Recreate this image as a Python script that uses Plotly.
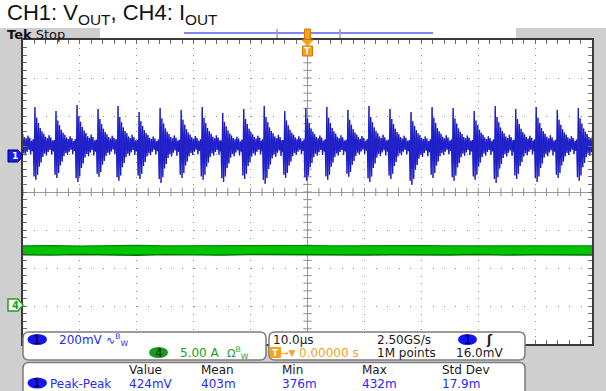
import numpy as np
import plotly.graph_objects as go

W, H = 606, 391
GX0, GX1, GY0, GY1 = 23, 592, 40, 344   # graticule edges in pixels


def fx(px):
    return (px - GX0) / (GX1 - GX0)


def fy(py):
    return (GY1 - py) / (GY1 - GY0)


# ---------------- data ----------------
ch1_scale_mv = 200.0      # mV / div
ch1_offset_div = 1.0      # CH1 ground marker position (div)
ch4_scale_a = 5.0         # A / div
ch4_offset_div = -3.0     # CH4 ground marker position (div)

ch1_baseline_mv = 47
ch1_spike_times_us = [-51.6, -47.9, -44.2, -40.5, -36.8, -33.3, -29.6, -25.9, -22.2,
                      -18.5, -14.9, -11.2, -7.6, -4.0, -0.3, 3.4, 7.1, 10.8, 14.5,
                      18.2, 21.9, 25.6, 29.3, 33.0, 36.6, 40.2, 43.9, 47.6]
ch1_spike_max_mv = [237, 247, 226, 258, 237, 253, 221, 242, 232, 247, 216, 237, 253, 226,
                    242, 247, 232, 253, 237, 221, 247, 242, 226, 253, 237, 247, 232, 242]
ch1_spike_min_mv = [-131, -136, -126, -147, -120, -141, -131, -152, -126, -136, -147, -131,
                    -157, -126, -141, -136, -120, -147, -131, -162, -126, -141, -136, -152,
                    -131, -147, -126, -141]
ch1_cycle_step_us = 0.155
ch1_cycle_shape = [0.15, -0.9, 1.0, -1.0, 0.72, -0.85, 0.58, -0.62, 0.45, -0.5, 0.36,
                   -0.34, 0.3, -0.24, 0.22, -0.3, 0.18, -0.2, 0.26, -0.14, 0.2, -0.28,
                   0.12, -0.18]

ch4_time_us = [-50, -45, -40, -35, -30, -25, -20, -15, -10, -5, 0,
               5, 10, 15, 20, 25, 30, 35, 40, 45, 50]
ch4_upper_a = [7.9, 7.95, 7.88, 7.93, 7.97, 7.9, 7.92, 7.96, 7.89, 7.91, 7.96,
               7.9, 7.93, 7.88, 7.95, 7.91, 7.9, 7.94, 7.97, 7.9, 7.93]
ch4_lower_a = [6.75, 6.7, 6.78, 6.72, 6.68, 6.76, 6.73, 6.69, 6.77, 6.74, 6.7,
               6.76, 6.71, 6.75, 6.69, 6.72, 6.77, 6.7, 6.74, 6.76, 6.71]

meas_labels = ["Value", "Mean", "Min", "Max", "Std Dev"]
meas_values = ["424mV", "403m", "376m", "432m", "17.9m"]
meas_name = "Peak-Peak"

# ---------------- build CH1 record ----------------
t1, v1 = [], []
n = len(ch1_spike_times_us)
for i in range(n):
    t0 = ch1_spike_times_us[i]
    vmax, vmin = ch1_spike_max_mv[i], ch1_spike_min_mv[i]
    t_next = ch1_spike_times_us[i + 1] - 2 * ch1_cycle_step_us if i + 1 < n else 1e9
    for k, s in enumerate(ch1_cycle_shape):
        t = t0 + (k - 2) * ch1_cycle_step_us
        if t >= t_next:
            break
        if s >= 0:
            v = ch1_baseline_mv + s * (vmax - ch1_baseline_mv)
        else:
            v = ch1_baseline_mv + s * (ch1_baseline_mv - vmin)
        t1.append(t)
        v1.append(v)

BLUE = "#2a2af5"
GREEN = "#1e9e1e"
ORANGE = "#f5a21e"
GRID = "#8e8e8e"

fig = go.Figure()

# centre cross-hair minor ticks (graticule)
minor_x = np.arange(-50, 50.01, 2)
minor_y = np.arange(-4, 4.001, 0.2)
fig.add_trace(go.Scatter(x=minor_x, y=np.zeros_like(minor_x), mode="markers",
                         marker=dict(symbol="line-ns", size=6, line=dict(width=1, color=GRID)),
                         hoverinfo="skip", showlegend=False))
fig.add_trace(go.Scatter(x=np.zeros_like(minor_y), y=minor_y, mode="markers",
                         marker=dict(symbol="line-ew", size=6, line=dict(width=1, color=GRID)),
                         hoverinfo="skip", showlegend=False))

# CH4 current band
fig.add_trace(go.Scatter(x=ch4_time_us, y=ch4_lower_a, yaxis="y3", mode="lines",
                         line=dict(color="#007000", width=1.4), showlegend=False, hoverinfo="skip"))
fig.add_trace(go.Scatter(x=ch4_time_us, y=ch4_upper_a, yaxis="y3", mode="lines",
                         line=dict(color="#008800", width=1.2), fill="tonexty",
                         fillcolor="#00c400", showlegend=False, hoverinfo="skip"))

# CH1 voltage
fig.add_trace(go.Scatter(x=t1, y=v1, yaxis="y2", mode="lines",
                         line=dict(color="#3232ee", width=1.3), showlegend=False, hoverinfo="skip"))
fig.add_trace(go.Scatter(x=t1, y=v1, yaxis="y2", mode="lines", opacity=0.55,
                         line=dict(color="#00007a", width=0.6), showlegend=False, hoverinfo="skip"))

ch1_range = [(-4 - ch1_offset_div) * ch1_scale_mv, (4 - ch1_offset_div) * ch1_scale_mv]
ch4_range = [(-4 - ch4_offset_div) * ch4_scale_a, (4 - ch4_offset_div) * ch4_scale_a]

axis_common = dict(showgrid=True, gridcolor=GRID, gridwidth=1, zeroline=True,
                   zerolinecolor="#9a9a9a", zerolinewidth=1, showline=True,
                   linecolor="#3a3a3a", linewidth=2, mirror="ticks", ticks="inside",
                   ticklen=4, tickcolor="#707070", showticklabels=False, fixedrange=True)

fig.update_layout(
    width=W, height=H, autosize=False,
    margin=dict(l=GX0, r=W - GX1, t=GY0, b=H - GY1, pad=0),
    paper_bgcolor="#cfcfcf", plot_bgcolor="white",
    xaxis=dict(range=[-50, 50], dtick=10, tick0=0, griddash="1px,6.6px",
               minor=dict(ticks="inside", ticklen=4, dtick=2, tickcolor="#707070", showgrid=False),
               **axis_common),
    yaxis=dict(range=[-4, 4], dtick=1, tick0=0, griddash="1px,10.38px",
               minor=dict(ticks="inside", ticklen=4, dtick=0.2, tickcolor="#707070", showgrid=False),
               **axis_common),
    yaxis2=dict(range=ch1_range, overlaying="y", visible=False, fixedrange=True),
    yaxis3=dict(range=ch4_range, overlaying="y", visible=False, fixedrange=True),
    showlegend=False,
)


def P(pts):
    s = ""
    for cmd, xy in pts:
        if cmd == "Z":
            s += " Z"
        else:
            s += " %s" % cmd + " ".join("%.5f,%.5f" % (fx(x), fy(y)) for x, y in xy)
    return s.strip()


def rrect(x0, y0, x1, y1, r):
    return P([("M", [(x0 + r, y0)]), ("L", [(x1 - r, y0)]), ("Q", [(x1, y0), (x1, y0 + r)]),
              ("L", [(x1, y1 - r)]), ("Q", [(x1, y1), (x1 - r, y1)]), ("L", [(x0 + r, y1)]),
              ("Q", [(x0, y1), (x0, y1 - r)]), ("L", [(x0, y0 + r)]),
              ("Q", [(x0, y0), (x0 + r, y0)]), ("Z", None)])


shapes = []
# white title area & record view bar
shapes.append(dict(type="rect", xref="paper", yref="paper", x0=fx(-5), x1=fx(615),
                   y0=fy(28), y1=fy(-5), fillcolor="white", line=dict(width=0), layer="below"))
shapes.append(dict(type="rect", xref="paper", yref="paper", x0=fx(100), x1=fx(516),
                   y0=fy(40), y1=fy(28), fillcolor="white", line=dict(width=0), layer="below"))
shapes.append(dict(type="line", xref="paper", yref="paper", x0=fx(184), x1=fx(433),
                   y0=fy(33), y1=fy(33), line=dict(color="#5b5bef", width=1.5)))
for bx in (277, 340):
    shapes.append(dict(type="line", xref="paper", yref="paper", x0=fx(bx), x1=fx(bx),
                       y0=fy(29), y1=fy(38), line=dict(color="#a0a0a0", width=1.5)))
# trigger position marker
shapes.append(dict(type="rect", xref="paper", yref="paper", x0=fx(304.5), x1=fx(310.5),
                   y0=fy(39), y1=fy(29), fillcolor=ORANGE, line=dict(color="#d07c00", width=1)))
shapes.append(dict(type="path", xref="paper", yref="paper",
                   path=P([("M", [(302, 40)]), ("L", [(313, 40)]), ("L", [(307.5, 46)]), ("Z", None)]),
                   fillcolor=ORANGE, line=dict(color=ORANGE, width=1)))
shapes.append(dict(type="rect", xref="paper", yref="paper", x0=fx(302.5), x1=fx(312.5),
                   y0=fy(56), y1=fy(46), fillcolor=ORANGE, line=dict(color="#d07c00", width=1)))
# channel ground markers
shapes.append(dict(type="path", xref="paper", yref="paper",
                   path=P([("M", [(8, 150)]), ("L", [(18, 150)]), ("L", [(23, 156)]),
                           ("L", [(18, 162)]), ("L", [(8, 162)]), ("Z", None)]),
                   fillcolor="#1a1aff", line=dict(color="#00005a", width=1)))
shapes.append(dict(type="path", xref="paper", yref="paper",
                   path=P([("M", [(8, 299)]), ("L", [(18, 299)]), ("L", [(23, 305)]),
                           ("L", [(18, 311)]), ("L", [(8, 311)]), ("Z", None)]),
                   fillcolor="white", line=dict(color="#22a022", width=1.5)))
# readout boxes
for (x0, y0, x1, y1) in [(23, 332, 266, 360), (269, 332, 525, 360), (23, 362.5, 525, 398)]:
    shapes.append(dict(type="path", xref="paper", yref="paper", path=rrect(x0, y0, x1, y1, 6),
                       fillcolor="white", line=dict(color="#7c7c7c", width=1.5), layer="above"))
# channel badges
for (x0, y0, x1, y1, c) in [(27.5, 334, 47, 345, "#1414f0"), (149, 347, 168, 358, "#1a9a1a"),
                            (458, 334, 477, 345, "#1414f0"), (27.5, 377.5, 47, 388.5, "#1414f0")]:
    shapes.append(dict(type="circle", xref="paper", yref="paper", x0=fx(x0), x1=fx(x1),
                       y0=fy(y1), y1=fy(y0), fillcolor=c, line=dict(width=0), layer="above"))
shapes.append(dict(type="rect", xref="paper", yref="paper", x0=fx(270), x1=fx(281),
                   y0=fy(358), y1=fy(347), fillcolor=ORANGE, line=dict(width=0), layer="above"))
fig.update_layout(shapes=shapes)

FONT = "DejaVu Sans"
ann = []


def txt(px, py, text, color="#1a1a1a", size=12, anchor="left", family=FONT):
    ann.append(dict(xref="paper", yref="paper", x=fx(px), y=fy(py), text=text, showarrow=False,
                    xanchor=anchor, yanchor="middle",
                    font=dict(family=family, size=size, color=color)))


ann.append(dict(xref="paper", yref="paper", x=fx(5), y=fy(-2),
                text="CH1: V<sub>OUT</sub>, CH4: I<sub>OUT</sub>", showarrow=False,
                xanchor="left", yanchor="top",
                font=dict(family="Liberation Sans", size=22, color="#111111")))
txt(5, 34, "<b>Tek</b> Stop", size=13, color="#111111")
txt(307.5, 51.5, "<b>T</b>", color="white", size=9, anchor="center")
txt(15, 156, "<b>1</b>", color="white", size=9, anchor="center")
txt(15, 305, "<b>4</b>", color="#22a022", size=10, anchor="center")

# left readout box
txt(37.3, 339.5, "1", color="#00002a", anchor="center")
txt(57, 339.5, "200mV", color=BLUE)
txt(104, 339.5, "∿<sup>B</sup><sub>W</sub>", color=BLUE, size=11)
txt(158.5, 352.5, "4", color="#002a00", anchor="center")
txt(178, 352.5, "5.00 A", color=GREEN)
txt(225, 352.5, "Ω<sup>B</sup><sub>W</sub>", color=GREEN, size=11)

# timebase box
txt(271, 339.5, "10.0µs")
txt(375, 339.5, "2.50GS/s")
txt(467.5, 339.5, "1", color="#00002a", anchor="center")
txt(484, 339.5, "<b>ʃ</b>")
txt(275.5, 352.5, "<b>T</b>", color="white", size=9, anchor="center")
txt(279, 352.5, "→▼", color=ORANGE, size=9)
txt(297, 352.5, "0.00000 s", color=ORANGE)
txt(375, 352.5, "1M points")
txt(454, 352.5, "16.0mV")

# measurement box
meas_x = [127, 199, 280, 360, 440]
for x, lab, val in zip(meas_x, meas_labels, meas_values):
    txt(x, 370, lab)
    txt(x, 383.5, val, color=BLUE)
txt(37.3, 383, "1", color="#00002a", anchor="center")
txt(48, 383.5, meas_name, color=BLUE)

fig.update_layout(annotations=ann)
fig.write_html("out.html")
